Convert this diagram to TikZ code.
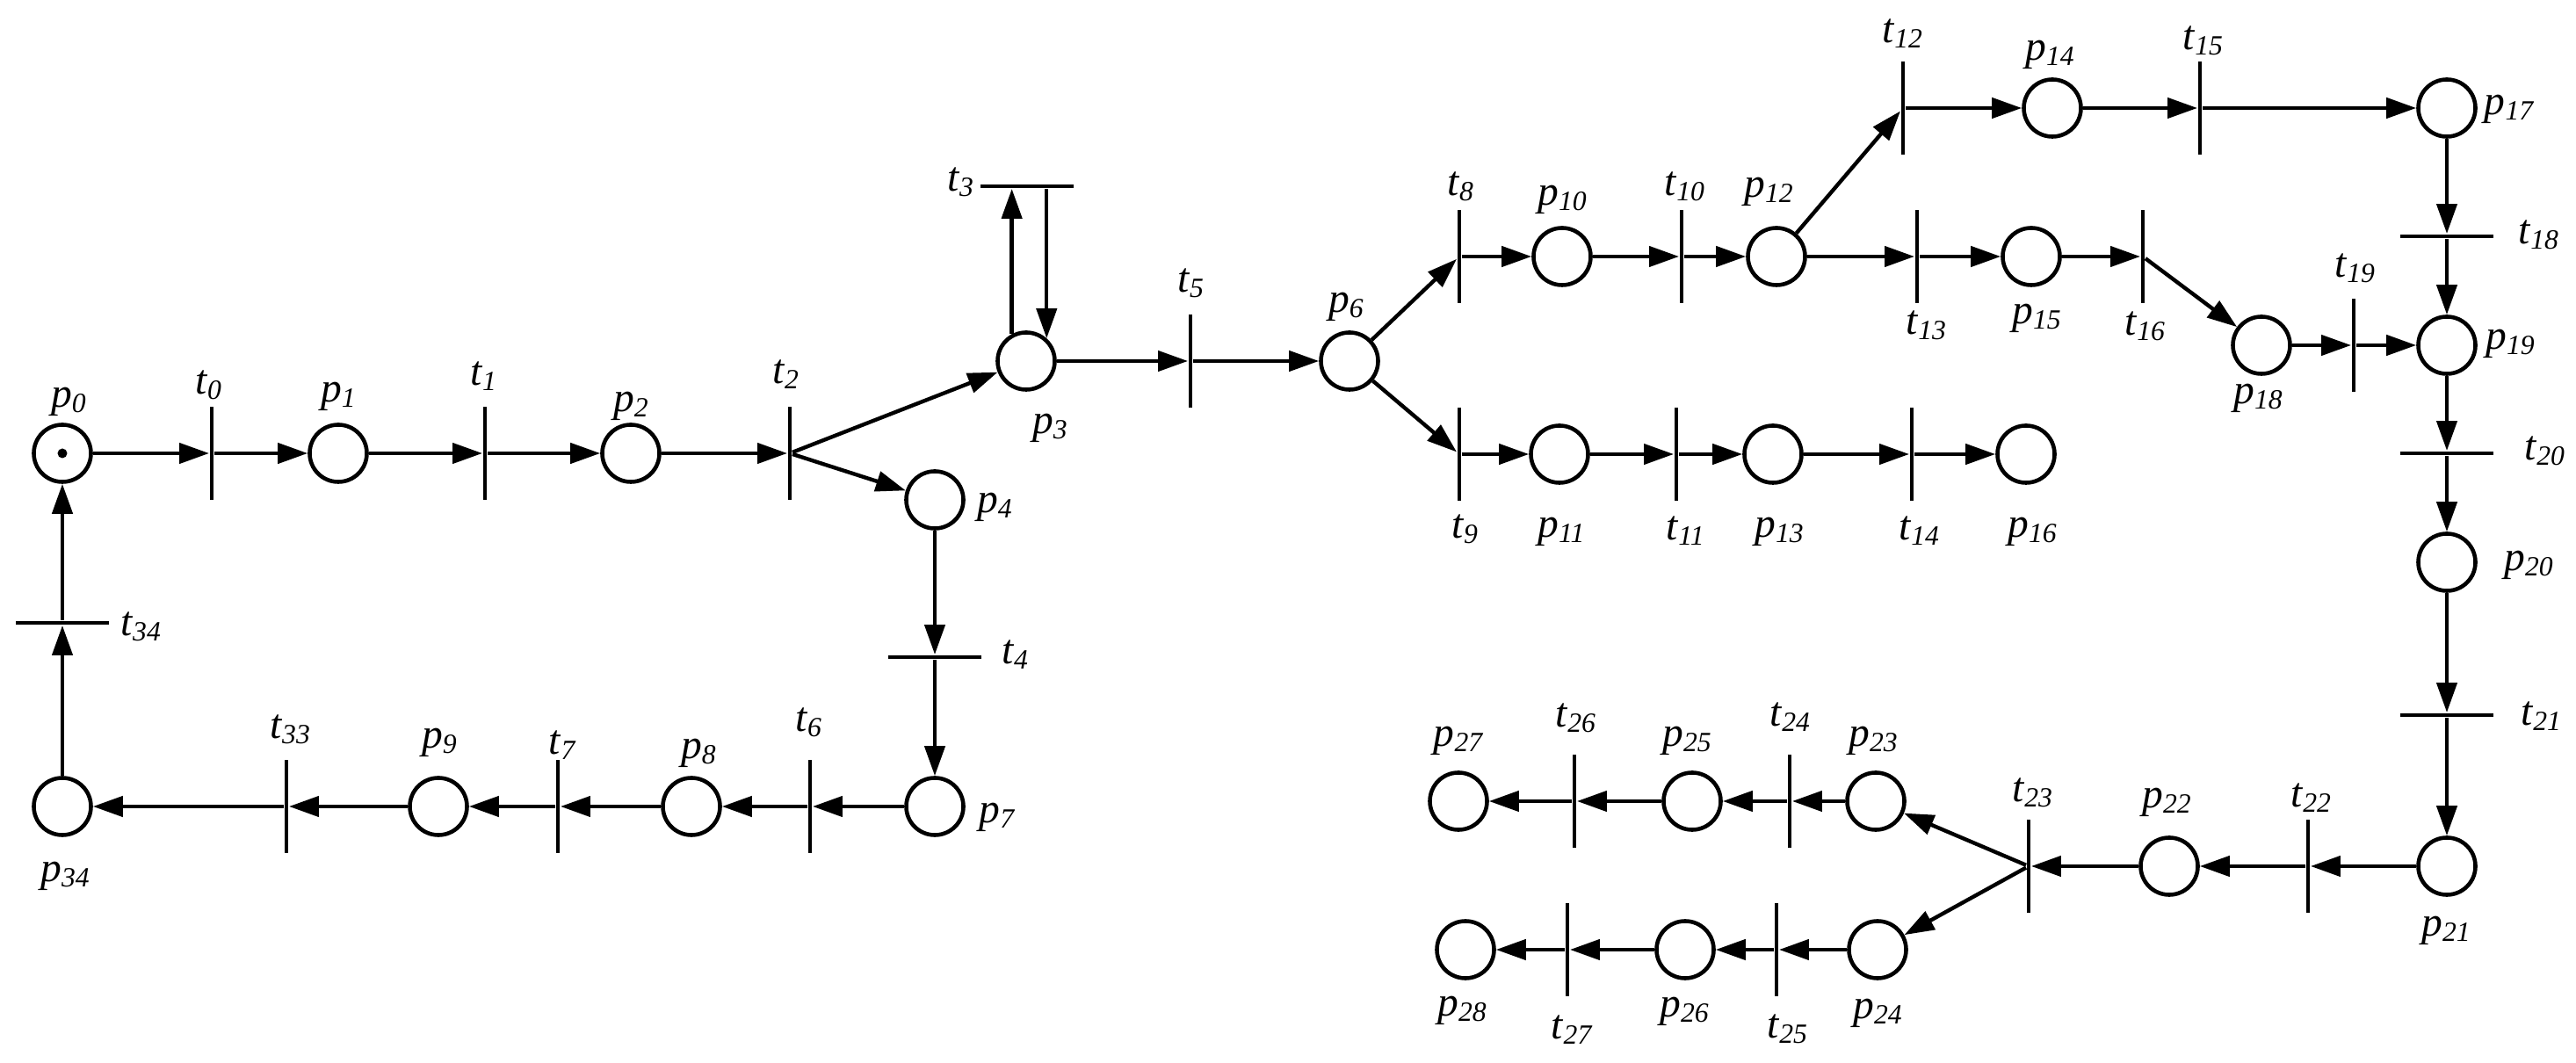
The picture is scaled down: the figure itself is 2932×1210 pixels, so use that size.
\documentclass[tikz,border=0pt]{standalone}
\usepackage{fontspec}
\setmainfont{Liberation Serif}
\usetikzlibrary{arrows.meta}
\newcommand\plab[2]{\textit{#1}\raisebox{-1.8pt}{\fontsize{9}{9}\selectfont\textit{#2}}}
\begin{document}
\begin{tikzpicture}[x=0.01cm,y=-0.01cm,
  place/.style={circle,draw,line width=1.3pt,minimum size=0.65cm,inner sep=0pt},
  vbar/.style={rectangle,fill,inner sep=0pt,minimum width=0.045cm,minimum height=1.06cm},
  hbar/.style={rectangle,fill,inner sep=0pt,minimum width=1.05cm,minimum height=0.045cm},
  lab/.style={inner sep=0pt,font=\fontsize{13.5}{15}\selectfont},
  arr/.style={line width=1.25pt,-{Triangle[length=0.34cm,width=0.23cm]}}]
\useasboundingbox (0,0) rectangle (2932,1210);
% places
\node[place] (p0) at (71,516) {};
\node[circle,fill,inner sep=0pt,minimum size=0.11cm] (tok) at (p0.center) {};
\node[place] (p1) at (385,516) {};
\node[place] (p2) at (718,516) {};
\node[place] (p3) at (1168,411) {};
\node[place] (p4) at (1064,569) {};
\node[place] (p7) at (1064,918) {};
\node[place] (p8) at (787,918) {};
\node[place] (p9) at (499,918) {};
\node[place] (p34) at (71,918) {};
\node[place] (p6) at (1536,411) {};
\node[place] (p10) at (1778,292) {};
\node[place] (p12) at (2022,292) {};
\node[place] (p11) at (1775,517) {};
\node[place] (p13) at (2018,517) {};
\node[place] (p16) at (2306,517) {};
\node[place] (p14) at (2336,123) {};
\node[place] (p17) at (2785,123) {};
\node[place] (p15) at (2312,292) {};
\node[place] (p18) at (2574,393) {};
\node[place] (p19) at (2785,393) {};
\node[place] (p20) at (2785,640) {};
\node[place] (p21) at (2785,986) {};
\node[place] (p22) at (2469,986) {};
\node[place] (p23) at (2135,912) {};
\node[place] (p24) at (2137,1081) {};
\node[place] (p25) at (1926,912) {};
\node[place] (p26) at (1918,1081) {};
\node[place] (p27) at (1660,912) {};
\node[place] (p28) at (1668,1081) {};
% transitions
\node[vbar] (t0) at (241,516) {};
\node[vbar] (t1) at (552,516) {};
\node[vbar] (t2) at (899,516) {};
\node[hbar] (t3) at (1169,212) {};
\node[hbar] (t4) at (1064,748) {};
\node[vbar] (t5) at (1355,411) {};
\node[vbar] (t6) at (922,918) {};
\node[vbar] (t7) at (635,918) {};
\node[vbar] (t33) at (326,918) {};
\node[hbar] (t34) at (71,709) {};
\node[vbar] (t8) at (1661,292) {};
\node[vbar] (t9) at (1661,517) {};
\node[vbar] (t10) at (1914,292) {};
\node[vbar] (t11) at (1908,517) {};
\node[vbar] (t12) at (2166,123) {};
\node[vbar] (t13) at (2182,292) {};
\node[vbar] (t14) at (2176,517) {};
\node[vbar] (t15) at (2504,123) {};
\node[vbar] (t16) at (2439,292) {};
\node[hbar] (t18) at (2785,269) {};
\node[vbar] (t19) at (2679,393) {};
\node[hbar] (t20) at (2785,516) {};
\node[hbar] (t21) at (2785,814) {};
\node[vbar] (t22) at (2627,986) {};
\node[vbar] (t23) at (2309,986) {};
\node[vbar] (t24) at (2037,912) {};
\node[vbar] (t25) at (2022,1081) {};
\node[vbar] (t26) at (1792,912) {};
\node[vbar] (t27) at (1784,1081) {};
% labels
\node[lab] (lp0) at (78,457) {\plab{p}{0}};
\node[lab] (lt0) at (237,438) {\plab{t}{0}};
\node[lab] (lp1) at (385,451) {\plab{p}{1}};
\node[lab] (lt1) at (550,428) {\plab{t}{1}};
\node[lab] (lp2) at (718,462) {\plab{p}{2}};
\node[lab] (lt2) at (894,426) {\plab{t}{2}};
\node[lab] (lp3) at (1195,487) {\plab{p}{3}};
\node[lab] (lt3) at (1093,207) {\plab{t}{3}};
\node[lab] (lp4) at (1132,577) {\plab{p}{4}};
\node[lab] (lt4) at (1155,745) {\plab{t}{4}};
\node[lab] (lt5) at (1355,322) {\plab{t}{5}};
\node[lab] (lp6) at (1532,349) {\plab{p}{6}};
\node[lab] (lt8) at (1662,212) {\plab{t}{8}};
\node[lab] (lp10) at (1778,227) {\plab{p}{10}};
\node[lab] (lt10) at (1917,212) {\plab{t}{10}};
\node[lab] (lp12) at (2013,218) {\plab{p}{12}};
\node[lab] (lt12) at (2165,38) {\plab{t}{12}};
\node[lab] (lp14) at (2333,62) {\plab{p}{14}};
\node[lab] (lt15) at (2507,46) {\plab{t}{15}};
\node[lab] (lp17) at (2856,124) {\plab{p}{17}};
\node[lab] (lt18) at (2889,267) {\plab{t}{18}};
\node[lab] (lt13) at (2192,370) {\plab{t}{13}};
\node[lab] (lp15) at (2318,362) {\plab{p}{15}};
\node[lab] (lt16) at (2441,371) {\plab{t}{16}};
\node[lab] (lp18) at (2570,453) {\plab{p}{18}};
\node[lab] (lt19) at (2680,305) {\plab{t}{19}};
\node[lab] (lp19) at (2857,391) {\plab{p}{19}};
\node[lab] (lt9) at (1667,602) {\plab{t}{9}};
\node[lab] (lp11) at (1777,605) {\plab{p}{11}};
\node[lab] (lt11) at (1918,604) {\plab{t}{11}};
\node[lab] (lp13) at (2025,605) {\plab{p}{13}};
\node[lab] (lt14) at (2184,604) {\plab{t}{14}};
\node[lab] (lp16) at (2313,605) {\plab{p}{16}};
\node[lab] (lt20) at (2896,513) {\plab{t}{20}};
\node[lab] (lp20) at (2878,643) {\plab{p}{20}};
\node[lab] (lt21) at (2892,815) {\plab{t}{21}};
\node[lab] (lp21) at (2784,1059) {\plab{p}{21}};
\node[lab] (lt22) at (2630,908) {\plab{t}{22}};
\node[lab] (lp22) at (2466,913) {\plab{p}{22}};
\node[lab] (lt23) at (2313,902) {\plab{t}{23}};
\node[lab] (lp23) at (2132,843) {\plab{p}{23}};
\node[lab] (lt24) at (2037,816) {\plab{t}{24}};
\node[lab] (lp25) at (1920,843) {\plab{p}{25}};
\node[lab] (lt26) at (1793,817) {\plab{t}{26}};
\node[lab] (lp27) at (1660,843) {\plab{p}{27}};
\node[lab] (lp24) at (2137,1153) {\plab{p}{24}};
\node[lab] (lt25) at (2034,1171) {\plab{t}{25}};
\node[lab] (lp26) at (1917,1151) {\plab{p}{26}};
\node[lab] (lt27) at (1789,1172) {\plab{t}{27}};
\node[lab] (lp28) at (1664,1150) {\plab{p}{28}};
\node[lab] (lt34) at (160,713) {\plab{t}{34}};
\node[lab] (lp34) at (74,997) {\plab{p}{34}};
\node[lab] (lt33) at (330,830) {\plab{t}{33}};
\node[lab] (lp9) at (500,845) {\plab{p}{9}};
\node[lab] (lt7) at (640,848) {\plab{t}{7}};
\node[lab] (lp8) at (795,857) {\plab{p}{8}};
\node[lab] (lt6) at (920,822) {\plab{t}{6}};
\node[lab] (lp7) at (1135,930) {\plab{p}{7}};
% arcs
\draw[arr] (p0) -- (t0);
\draw[arr] (t0) -- (p1);
\draw[arr] (p1) -- (t1);
\draw[arr] (t1) -- (p2);
\draw[arr] (p2) -- (t2);
\draw[arr] (t2) -- (p3);
\draw[arr] (t2) -- (p4);
\draw[arr] (p3.118) -- (p3.118 |- t3.south);
\draw[arr] (t3.south -| p3.48) -- (p3.48);
\draw[arr] (p3) -- (t5);
\draw[arr] (t5) -- (p6);
\draw[arr] (p4) -- (t4);
\draw[arr] (t4) -- (p7);
\draw[arr] (p7) -- (t6);
\draw[arr] (t6) -- (p8);
\draw[arr] (p8) -- (t7);
\draw[arr] (t7) -- (p9);
\draw[arr] (p9) -- (t33);
\draw[arr] (t33) -- (p34);
\draw[arr] (p34) -- (t34);
\draw[arr] (t34) -- (p0);
\draw[arr] (p6) -- (t8);
\draw[arr] (p6) -- (t9);
\draw[arr] (t8) -- (p10);
\draw[arr] (p10) -- (t10);
\draw[arr] (t10) -- (p12);
\draw[arr] (p12) -- (t12);
\draw[arr] (p12) -- (t13);
\draw[arr] (t12) -- (p14);
\draw[arr] (p14) -- (t15);
\draw[arr] (t15) -- (p17);
\draw[arr] (p17) -- (t18);
\draw[arr] (t18) -- (p19);
\draw[arr] (t13) -- (p15);
\draw[arr] (p15) -- (t16);
\draw[arr] (t16) -- (p18);
\draw[arr] (p18) -- (t19);
\draw[arr] (t19) -- (p19);
\draw[arr] (p19) -- (t20);
\draw[arr] (t20) -- (p20);
\draw[arr] (p20) -- (t21);
\draw[arr] (t21) -- (p21);
\draw[arr] (p21) -- (t22);
\draw[arr] (t22) -- (p22);
\draw[arr] (p22) -- (t23);
\draw[arr] (t23) -- (p23);
\draw[arr] (t23) -- (p24);
\draw[arr] (p23) -- (t24);
\draw[arr] (t24) -- (p25);
\draw[arr] (p25) -- (t26);
\draw[arr] (t26) -- (p27);
\draw[arr] (p24) -- (t25);
\draw[arr] (t25) -- (p26);
\draw[arr] (p26) -- (t27);
\draw[arr] (t27) -- (p28);
\draw[arr] (t9) -- (p11);
\draw[arr] (p11) -- (t11);
\draw[arr] (t11) -- (p13);
\draw[arr] (p13) -- (t14);
\draw[arr] (t14) -- (p16);
\end{tikzpicture}
\end{document}
